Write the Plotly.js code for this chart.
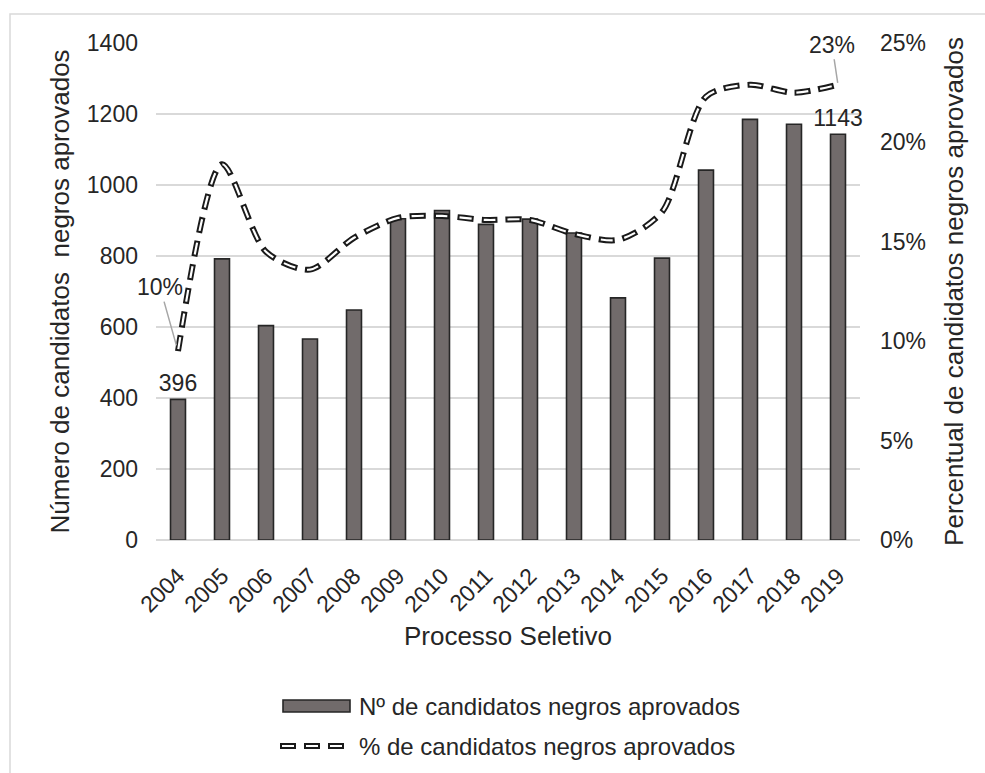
<!DOCTYPE html>
<html>
<head>
<meta charset="utf-8">
<script src="https://cdn.plot.ly/plotly-3.0.1.min.js"></script>
<style>
  html, body { margin: 0; padding: 0; background: #ffffff; }
  #chart { width: 985px; height: 773px; }
</style>
</head>
<body>
<div id="chart"></div>
<script>
// Processo seletivo: candidatos negros aprovados por ano
const anos = ['2004','2005','2006','2007','2008','2009','2010','2011',
              '2012','2013','2014','2015','2016','2017','2018','2019'];
const aprovados = [396, 792, 604, 566, 648, 905, 928, 889,
                   904, 865, 682, 794, 1042, 1185, 1171, 1143];
const percentual = [0.095, 0.189, 0.145, 0.136, 0.152, 0.162, 0.163, 0.161,
                    0.161, 0.154, 0.151, 0.165, 0.223, 0.229, 0.225, 0.229];
const rotulosBarras = ['396','','','','','','','','','','','','','','','1143'];
const rotulosPercentual = { '2004': '10%', '2019': '23%' };
const nomeBarras = 'Nº de candidatos negros aprovados';
const nomeLinha = '% de candidatos negros aprovados';

const FONT = 'Liberation Sans, Arial, sans-serif';
const TXT = '#262626';
const BAR_FILL = '#716b6b';
const BAR_EDGE = '#262626';
const DASH_OUT = { color: '#1a1a1a', width: 6, dash: '16px,8px' };
const DASH_IN = { color: '#ffffff', width: 2.2, dash: '0px,2px,12px,10px' };

// plot area in pixels, used to place the legend block below the axes
const W = 985, H = 773;
const M = { l: 156, r: 125, t: 43, b: 233 };
const pw = W - M.l - M.r, ph = H - M.t - M.b;
const px = v => (v - M.l) / pw;
const py = v => (H - M.b - v) / ph;

const barras = {
  type: 'bar',
  name: nomeBarras,
  x: anos,
  y: aprovados,
  text: rotulosBarras,
  textposition: 'outside',
  textfont: { family: FONT, size: 23, color: TXT },
  constraintext: 'none',
  cliponaxis: false,
  marker: { color: BAR_FILL, line: { color: BAR_EDGE, width: 1.6 } },
  showlegend: false,
  hoverinfo: 'x+y'
};

// contorno preto da linha tracejada
const linhaContorno = {
  type: 'scatter',
  mode: 'lines',
  name: nomeLinha,
  x: anos,
  y: percentual,
  yaxis: 'y2',
  line: Object.assign({ shape: 'spline', smoothing: 0.8 }, DASH_OUT),
  showlegend: false,
  hoverinfo: 'x+y'
};

// preenchimento branco dentro de cada traço
const linhaMiolo = {
  type: 'scatter',
  mode: 'lines',
  x: anos,
  y: percentual,
  yaxis: 'y2',
  line: Object.assign({ shape: 'spline', smoothing: 0.8 }, DASH_IN),
  showlegend: false,
  hoverinfo: 'skip'
};

// rótulos de percentual com linha de chamada
const annPerc = Object.keys(rotulosPercentual).map(ano => {
  const i = anos.indexOf(ano);
  const first = i === 0;
  return {
    x: i, y: percentual[i], xref: 'x', yref: 'y2',
    text: rotulosPercentual[ano],
    showarrow: true, arrowhead: 0, arrowwidth: 1.5, arrowcolor: '#a6a6a6',
    ax: first ? -18 : -6, ay: first ? -64 : -40, standoff: first ? 6 : 2,
    font: { family: FONT, size: 23, color: TXT }
  };
});

// legenda
const legX0 = 283, legX1 = 350, legText = 357;
const legY1 = 706, legY2 = 746;
const shapesLegenda = [
  {
    type: 'rect', xref: 'paper', yref: 'paper',
    x0: px(legX0), x1: px(legX1), y0: py(legY1 + 6), y1: py(legY1 - 6),
    fillcolor: BAR_FILL, line: { color: BAR_EDGE, width: 1.6 }
  },
  {
    type: 'line', xref: 'paper', yref: 'paper',
    x0: px(280), x1: px(347), y0: py(legY2), y1: py(legY2),
    line: DASH_OUT
  },
  {
    type: 'line', xref: 'paper', yref: 'paper',
    x0: px(280), x1: px(347), y0: py(legY2), y1: py(legY2),
    line: DASH_IN
  }
];
const annLegenda = [
  { text: nomeBarras, y: py(legY1) },
  { text: nomeLinha, y: py(legY2) }
].map(a => ({
  xref: 'paper', yref: 'paper', x: px(legText), y: a.y,
  xanchor: 'left', yanchor: 'middle', showarrow: false, text: a.text,
  font: { family: FONT, size: 24, color: TXT }
}));

const layout = {
  width: W,
  height: H,
  margin: M,
  paper_bgcolor: '#ffffff',
  plot_bgcolor: '#ffffff',
  font: { family: FONT, color: TXT, size: 23 },
  bargap: 0.66,
  showlegend: false,
  xaxis: {
    type: 'category',
    range: [-0.5, anos.length - 0.5],
    tickangle: -45,
    tickfont: { family: FONT, size: 23, color: TXT },
    showgrid: false,
    showline: false,
    zeroline: false,
    ticks: '',
    ticklabelstandoff: 17,
    title: { text: 'Processo Seletivo', font: { family: FONT, size: 26, color: TXT }, standoff: 10 }
  },
  yaxis: {
    range: [0, 1400],
    dtick: 200,
    tickfont: { family: FONT, size: 23, color: TXT },
    showgrid: true,
    gridcolor: '#d9d9d9',
    gridwidth: 1.5,
    zeroline: true,
    zerolinecolor: '#d9d9d9',
    zerolinewidth: 1.5,
    showline: false,
    ticks: '',
    ticklabelstandoff: 17,
    title: { text: 'Número de candidatos  negros aprovados', font: { family: FONT, size: 26, color: TXT }, standoff: 9 }
  },
  yaxis2: {
    overlaying: 'y',
    side: 'right',
    range: [0, 0.25],
    dtick: 0.05,
    tickformat: '.0%',
    tickfont: { family: FONT, size: 23, color: TXT },
    showgrid: false,
    zeroline: false,
    showline: false,
    ticks: '',
    ticklabelstandoff: 19,
    title: { text: 'Percentual de candidatos negros aprovados', font: { family: FONT, size: 26, color: TXT }, standoff: 19 }
  },
  annotations: annPerc.concat(annLegenda),
  shapes: [
    {
      type: 'rect', xref: 'paper', yref: 'paper', layer: 'below',
      x0: px(10), x1: px(1000), y0: py(800), y1: py(14),
      line: { color: '#d9d9d9', width: 1.5 }, fillcolor: 'rgba(0,0,0,0)'
    }
  ].concat(shapesLegenda)
};

Plotly.newPlot('chart', [barras, linhaContorno, linhaMiolo], layout, { displayModeBar: false, responsive: false });
</script>
</body>
</html>
